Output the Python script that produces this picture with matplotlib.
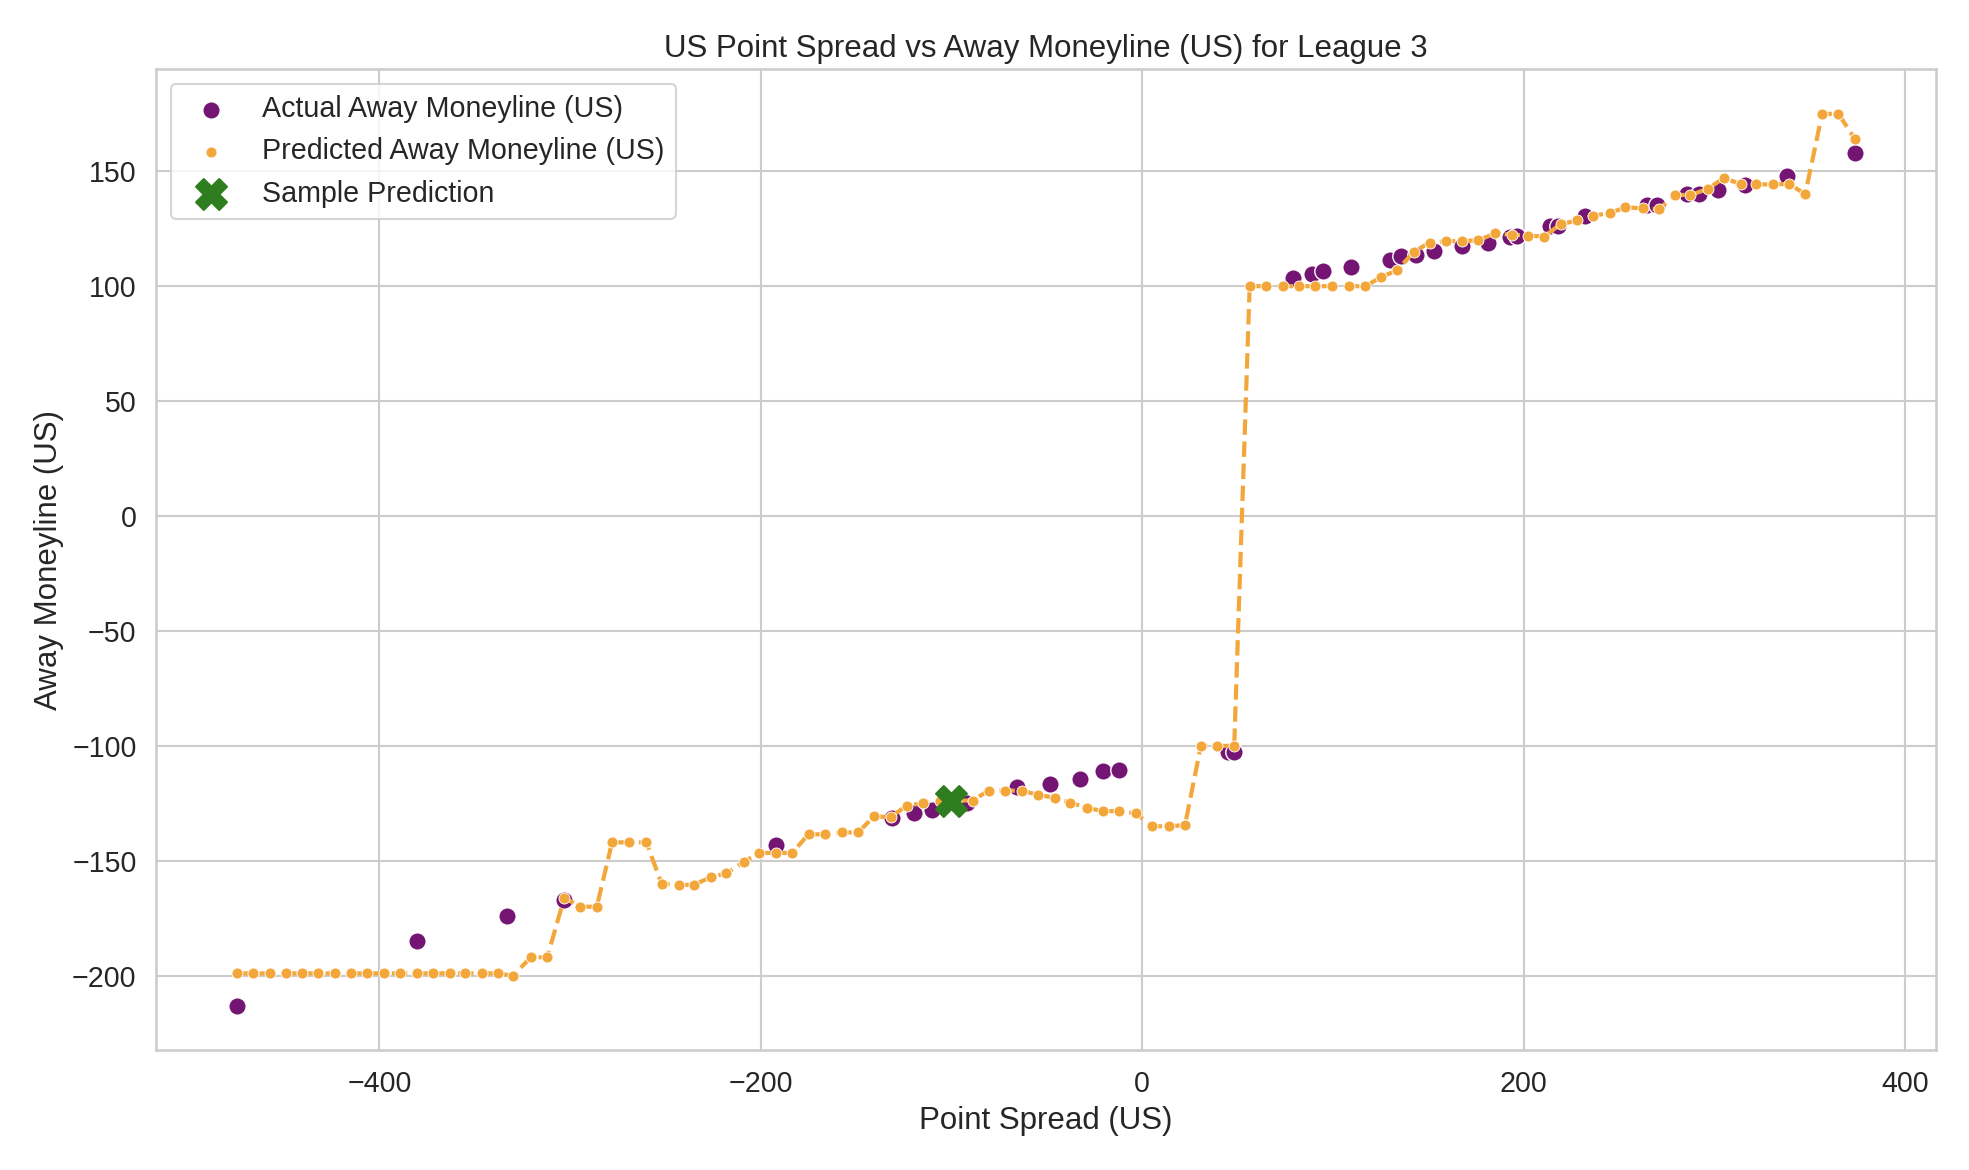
import matplotlib
matplotlib.use('Agg')
import matplotlib.pyplot as plt
import seaborn as sns

# predicted away moneyline vs point spread
pred_x = [-474.5, -466, -457.5, -449, -440.5, -432, -423, -415, -406.5, -397.5, -389, -380.5,
          -372, -363, -355, -346, -338, -330, -320.5, -312, -303, -295, -286, -278, -269, -260,
          -252, -243, -235, -226, -218, -209, -201, -192, -183.6, -175, -166.4, -157.6, -149,
          -140.7, -132, -123.4, -115, -106.3, -97.8, -89, -80.6, -71.8, -63.3, -54.7, -46,
          -37.7, -29, -20.6, -12, -3.4, 5.2, 13.9, 22.4, 30.7, 39.4, 48.2,
          56.3, 65.1, 73.8, 82.4, 90.8, 99.4, 108.3, 116.9, 125, 133.6, 142.5, 150.6, 159.4,
          167.8, 176.2, 185, 193.6, 202.3, 210.6, 219.4, 228, 236.5, 245, 253.3, 262.3, 270.7,
          279.5, 287.4, 296.5, 305, 314, 322, 330.5, 339, 347.6, 356.4, 365, 373.6]
pred_y = [-199, -199, -199, -199, -199, -199, -199, -199, -199, -199, -199, -199,
          -199, -199, -199, -199, -199, -200, -192, -192, -166, -170, -170, -142, -142, -142,
          -160, -160.5, -160.5, -157, -155.5, -150.5, -146.6, -146.6, -146.6, -138.5, -138.5,
          -137.7, -137.7, -130.7, -131, -126, -125, -123.8, -123.8, -123.8, -119.5, -119.5,
          -119.5, -121.3, -122.6, -124.7, -127, -128.4, -128.4, -129.4, -135, -135, -134.5,
          -100, -100, -100,
          100, 100, 100, 100, 100, 100, 100, 100, 103.8, 107, 115, 119, 119.6,
          119.6, 120, 123, 122.4, 122, 121.6, 127, 128.6, 130.7, 131.8, 134.3, 133.9, 133.4,
          139.8, 139.6, 142.4, 147.1, 144.3, 144.3, 144.3, 144.5, 140.1, 175, 175, 164.1]

# actual away moneyline
act_x = [-474.5, -380.5, -333, -303, -192, -131, -119.7, -110.3, -91.8, -65.9, -48.3, -32.7,
         -20.6, -12.4, 44.8, 48,
         79.2, 89.1, 94.8, 109.2, 130.1, 135.8, 143.6, 153, 167.8, 181, 193, 196.7, 214, 218,
         232, 264.6, 269.7, 285.6, 292, 302, 315.8, 338.2, 373.6]
act_y = [-213, -185, -174, -167, -143, -131.6, -129.4, -127.7, -125, -118, -116.5, -114.3,
         -111, -110.4, -102.5, -102.5,
         103.7, 105.5, 106.4, 108.5, 111.5, 113.1, 113.5, 115.3, 117.4, 118.8, 121.3, 122,
         126.4, 126, 130.7, 135.3, 135.5, 140.3, 140.3, 141.7, 144.1, 148.1, 158.1]

sample_x = [-100.4]
sample_y = [-124]

sns.set_theme(style='whitegrid', font_scale=1.25)
plt.rcParams['font.family'] = ['Liberation Sans', 'DejaVu Sans']
fig, ax = plt.subplots(figsize=(13.13, 7.8), dpi=150)

sns.scatterplot(x=act_x, y=act_y, color='#741574', s=70, edgecolor='white',
                label='Actual Away Moneyline (US)', ax=ax, zorder=3)
ax.plot(pred_x, pred_y, linestyle='--', color='#f3a73b', linewidth=2, zorder=3)
sns.scatterplot(x=pred_x, y=pred_y, color='#f3a73b', s=28, edgecolor='white',
                label='Predicted Away Moneyline (US)', ax=ax, zorder=4)
ax.scatter(sample_x, sample_y, color='#2e7d1f', marker='X', s=220, zorder=5,
           label='Sample Prediction')

ax.set_title('US Point Spread vs Away Moneyline (US) for League 3')
ax.set_xlabel('Point Spread (US)')
ax.set_ylabel('Away Moneyline (US)')
ax.legend(loc='upper left')
fig.tight_layout()
fig.savefig('out.png', dpi=150)
